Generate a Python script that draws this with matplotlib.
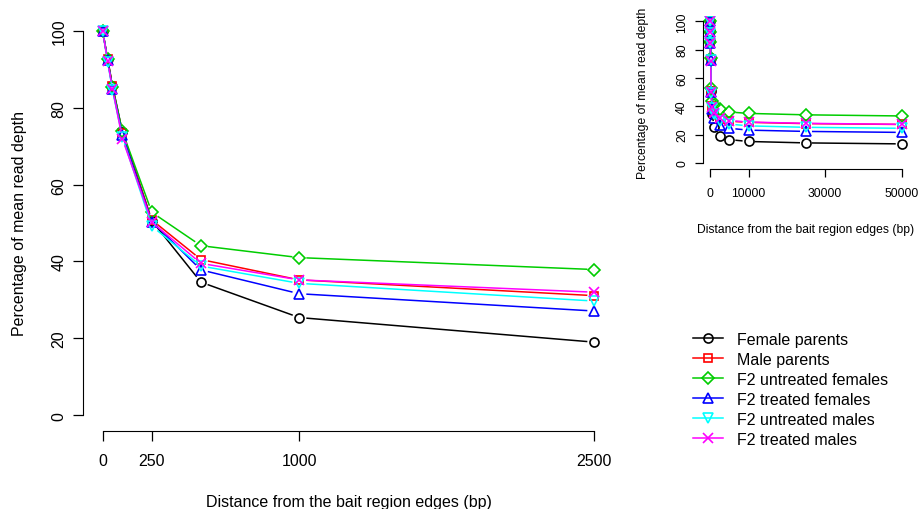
import numpy as np
import matplotlib
matplotlib.use('Agg')
import matplotlib.pyplot as plt

plt.rcParams['font.family'] = ['Liberation Sans', 'DejaVu Sans']

# distances from bait region edges (bp)
distances = [0, 25, 50, 100, 250, 500, 1000, 2500, 5000, 10000, 25000, 50000]

female_parents = [100, 92.8, 85.8, 73.8, 50.6, 34.6, 25.4, 19.0, 16.5, 15.2, 14.2, 13.5]
male_parents = [100, 92.6, 85.6, 73.5, 50.8, 40.5, 35.2, 31.1, 29.5, 28.7, 27.8, 27.2]
f2_untreated_females = [100, 92.6, 85.4, 73.9, 52.8, 44.1, 41.0, 37.9, 36.0, 35.0, 34.0, 33.2]
f2_treated_females = [100, 92.4, 85.0, 73.0, 50.4, 37.8, 31.6, 27.1, 24.5, 23.2, 22.3, 21.6]
f2_untreated_males = [100, 92.0, 84.6, 72.4, 49.2, 38.8, 34.3, 29.7, 27.5, 26.2, 25.2, 24.5]
f2_treated_males = [100, 92.2, 85.0, 72.0, 50.2, 39.5, 35.2, 32.0, 30.0, 28.9, 28.0, 27.3]

labels = ['Female parents', 'Male parents', 'F2 untreated females',
          'F2 treated females', 'F2 untreated males', 'F2 treated males']
series = [female_parents, male_parents, f2_untreated_females,
          f2_treated_females, f2_untreated_males, f2_treated_males]
colors = ['black', '#FF0000', '#00CD00', '#0000FF', '#00FFFF', '#FF00FF']
markers = ['o', 's', 'D', '^', 'v', 'x']

main_ticks_x = [0, 250, 1000, 2500]
inset_ticks_x = [0, 10000, 30000, 50000]
ticks_y = [0, 20, 40, 60, 80, 100]
xlab = 'Distance from the bait region edges (bp)'
ylab = 'Percentage of mean read depth'

W, H = 919, 510
fig = plt.figure(figsize=(W / 100, H / 100), dpi=100)


def r_axes(box, xlim, ylim, xticks, fs, ticklen, xpad, ypad):
    ax = fig.add_axes([box[0] / W, 1 - box[3] / H, (box[2] - box[0]) / W, (box[3] - box[1]) / H])
    ax.set_xlim(*xlim)
    ax.set_ylim(*ylim)
    for s in ['top', 'right']:
        ax.spines[s].set_visible(False)
    ax.spines['left'].set_bounds(0, 100)
    ax.spines['bottom'].set_bounds(xticks[0], xticks[-1])
    ax.set_xticks(xticks)
    ax.set_yticks(ticks_y)
    ax.set_xticklabels([str(t) for t in xticks], fontsize=fs)
    ax.set_yticklabels([str(t) for t in ticks_y], fontsize=fs, rotation=90, va='center')
    ax.tick_params(length=ticklen, width=0.9)
    ax.tick_params(axis='x', pad=xpad)
    ax.tick_params(axis='y', pad=ypad)
    return ax


def draw_b(ax, xs, ys, color, marker, ms, gap):
    # R type="b": segments stop short of the points
    pts = ax.transData.transform(np.column_stack([xs, ys]))
    inv = ax.transData.inverted()
    for p, q in zip(pts[:-1], pts[1:]):
        d = q - p
        L = np.hypot(*d)
        if L <= 2 * gap:
            continue
        u = d / L
        seg = inv.transform(np.array([p + u * gap, q - u * gap]))
        ax.plot(seg[:, 0], seg[:, 1], color=color, lw=1.1, solid_capstyle='butt')
    ax.plot(xs, ys, ls='none', marker=marker, ms=ms, mfc='none', mec=color, mew=1.2)


ax = r_axes((83, 16.6, 614, 431.5), (-100, 2600), (-4, 104), main_ticks_x, 11.5, 7.2, 9, 4.5)
ax2 = r_axes((702.6, 16.6, 909.4, 169.7), (-2000, 52000), (-4, 104), inset_ticks_x, 8.7, 5.5, 7.5, 5)

n_main = sum(1 for d in distances if d <= 2500)
handles = []
for ys, c, m, lab in zip(series, colors, markers, labels):
    ms = 6.5 if m != 's' else 5.8
    draw_b(ax, distances[:n_main], ys[:n_main], c, m, ms, 7)
    draw_b(ax2, distances, ys, c, m, ms, 6)
    h, = ax.plot([], [], color=c, marker=m, ms=ms, mfc='none', mec=c, mew=1.2, lw=1.1, label=lab)
    handles.append(h)

fig.text(348.5 / W, 1 - 503 / H, xlab, fontsize=11.5, ha='center', va='center')
fig.text(20 / W, 1 - 224 / H, ylab, fontsize=11.5, ha='center', va='center', rotation=90)
fig.text(806 / W, 1 - 230 / H, xlab, fontsize=8.7, ha='center', va='center')
fig.text(643 / W, 1 - 93 / H, ylab, fontsize=8.7, ha='center', va='center', rotation=90)

fig.legend(handles=handles, loc='upper left', bbox_to_anchor=(693 / W, 1 - 333 / H),
           frameon=False, fontsize=11.5, handlelength=1.85, handletextpad=0.9,
           labelspacing=0.31, borderpad=0, borderaxespad=0)

fig.savefig('out.png', dpi=100)
